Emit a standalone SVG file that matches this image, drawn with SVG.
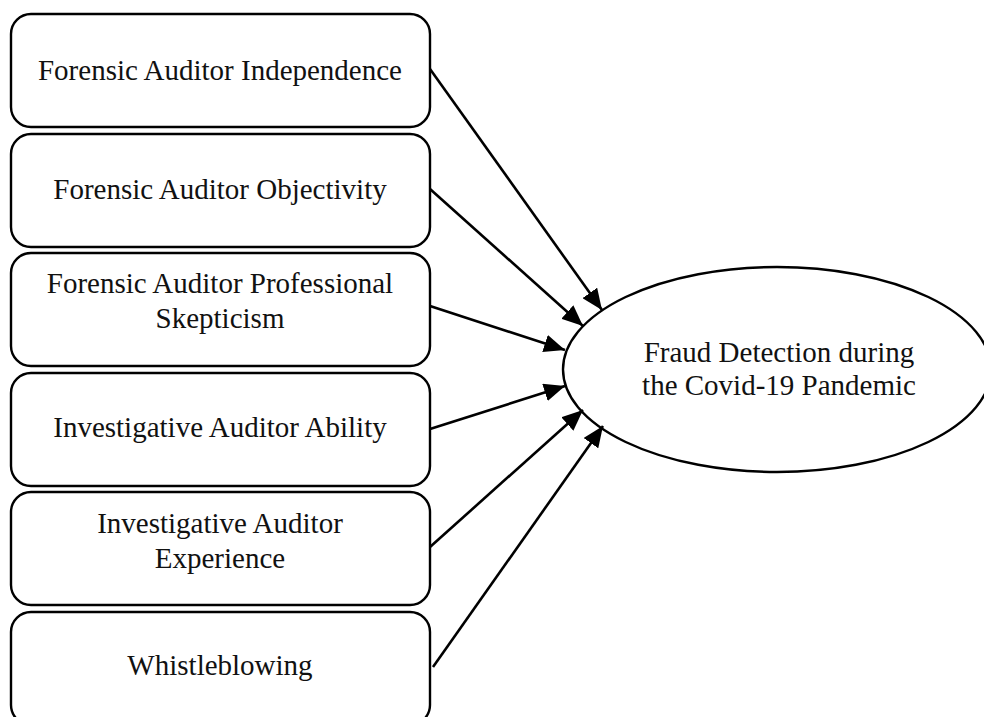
<svg xmlns="http://www.w3.org/2000/svg" width="984" height="717" viewBox="0 0 984 717">
<style>
.box{fill:#fff;stroke:#000;stroke-width:2.4}
.lbl{font-family:"Liberation Serif","Times New Roman",serif;font-size:29px;fill:#111;text-anchor:middle}
.con{stroke:#000;stroke-width:2.6;fill:none;marker-end:url(#arr)}
</style>
<defs>
<marker id="arr" markerUnits="userSpaceOnUse" markerWidth="22" markerHeight="18" refX="21" refY="9" orient="auto">
<path d="M0,0 L21,9 L0,18 Z" fill="#000"/>
</marker>
</defs>
<rect width="984" height="717" fill="#fff"/>
<g id="n1"><rect class="box" x="11" y="14" width="419" height="113" rx="20"/><text class="lbl" x="220" y="80">Forensic Auditor Independence</text></g>
<g id="n2"><rect class="box" x="11" y="134" width="419" height="113" rx="20"/><text class="lbl" x="220" y="199">Forensic Auditor Objectivity</text></g>
<g id="n3"><rect class="box" x="11" y="253" width="419" height="113" rx="20"/><text class="lbl" x="220" y="293">Forensic Auditor Professional</text><text class="lbl" x="220" y="328">Skepticism</text></g>
<g id="n4"><rect class="box" x="11" y="373" width="419" height="113" rx="20"/><text class="lbl" x="220" y="437">Investigative Auditor Ability</text></g>
<g id="n5"><rect class="box" x="11" y="492" width="419" height="113" rx="20"/><text class="lbl" x="220" y="533">Investigative Auditor</text><text class="lbl" x="220" y="568">Experience</text></g>
<g id="n6"><rect class="box" x="11" y="612" width="419" height="113" rx="20"/><text class="lbl" x="220" y="675">Whistleblowing</text></g>
<g id="target"><ellipse class="box" cx="777" cy="369.5" rx="214" ry="102.5"/><text class="lbl" x="779" y="362">Fraud Detection during</text><text class="lbl" x="779" y="395">the Covid-19 Pandemic</text></g>
<g id="connectors">
<line class="con" x1="430" y1="69" x2="602" y2="310"/>
<line class="con" x1="430" y1="189" x2="583" y2="326"/>
<line class="con" x1="430" y1="306" x2="565" y2="350"/>
<line class="con" x1="430" y1="429" x2="565" y2="386"/>
<line class="con" x1="430" y1="547" x2="583" y2="410"/>
<line class="con" x1="433" y1="667" x2="603" y2="426"/>
</g>
</svg>
